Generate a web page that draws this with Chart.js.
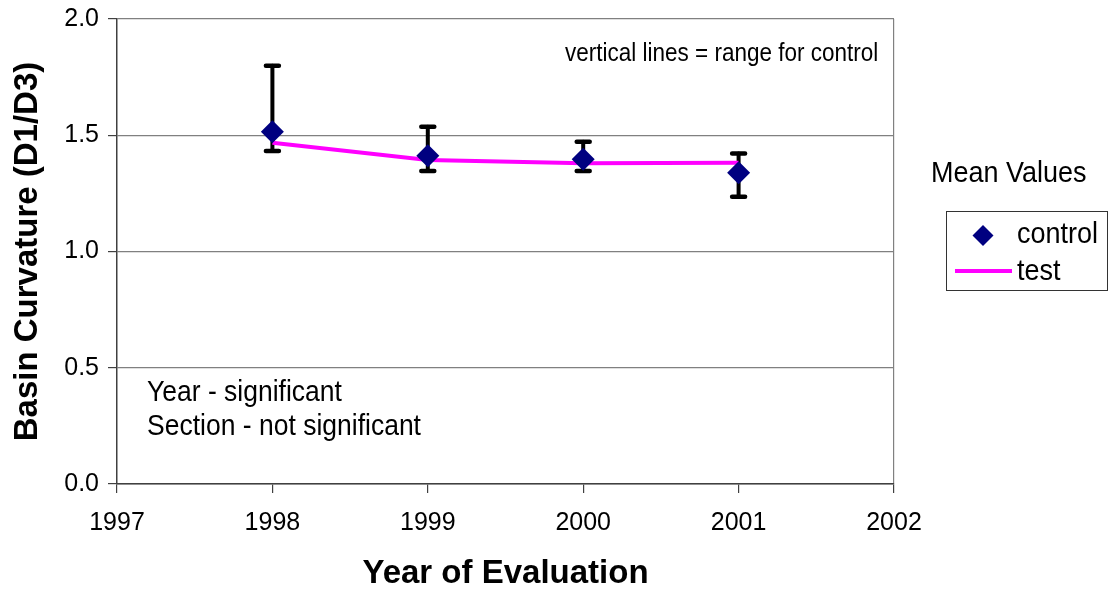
<!DOCTYPE html>
<html>
<head>
<meta charset="utf-8">
<title>Basin Curvature</title>
<script src="https://cdn.jsdelivr.net/npm/chart.js@4.4.0/dist/chart.umd.min.js"></script>
<style>
  html, body { margin: 0; padding: 0; background: #fff; }
  #wrap { width: 1110px; height: 592px; }
</style>
</head>
<body>
<div id="wrap"><canvas id="curvatureChart" width="1110" height="592"></canvas></div>
<script>
// values
const years = [1998, 1999, 2000, 2001];
const controlMean = [1.515, 1.412, 1.397, 1.339];
const controlHigh = [1.799, 1.537, 1.472, 1.422];
const controlLow = [1.432, 1.346, 1.346, 1.236];
const testMean = [1.468, 1.394, 1.38, 1.382];

const xTicks = [1997, 1998, 1999, 2000, 2001, 2002];
const yTicks = [0, 0.5, 1.0, 1.5, 2.0];

const FONT = "'Liberation Sans', Arial, sans-serif";
Chart.defaults.font.family = FONT;
Chart.defaults.color = "#000";

function stretchedText(ctx, text, x, y, size, sy) {
    ctx.save();
    ctx.font = size + "px " + FONT;
    ctx.fillStyle = "#000";
    ctx.textBaseline = "alphabetic";
    ctx.textAlign = "left";
    ctx.translate(x, y);
    ctx.scale(1, sy);
    ctx.fillText(text, 0, 0);
    ctx.restore();
}

// range bars for control, drawn behind the markers
const rangeBars = {
    id: "rangeBars",
    beforeDatasetsDraw(chart) {
        const ctx = chart.ctx;
        const xs = chart.scales.x;
        const ys = chart.scales.y;
        ctx.save();
        ctx.strokeStyle = "#000";
        ctx.lineCap = "round";
        years.forEach((yr, i) => {
            const px = xs.getPixelForValue(yr);
            const top = ys.getPixelForValue(controlHigh[i]);
            const bot = ys.getPixelForValue(controlLow[i]);
            ctx.lineWidth = 4;
            ctx.beginPath();
            ctx.moveTo(px, top);
            ctx.lineTo(px, bot);
            ctx.stroke();
            ctx.lineWidth = 4.5;
            ctx.beginPath();
            ctx.moveTo(px - 6.5, top);
            ctx.lineTo(px + 6.5, top);
            ctx.moveTo(px - 6.5, bot);
            ctx.lineTo(px + 6.5, bot);
            ctx.stroke();
        });
        ctx.restore();
    }
};

// legend box and notes
const extras = {
    id: "extras",
    afterDraw(chart) {
        const ctx = chart.ctx;
        const sy = 1.12;

        stretchedText(ctx, "vertical lines = range for control", 565, 61, 22.5, sy);
        stretchedText(ctx, "Year - significant", 147, 401, 26.5, sy);
        stretchedText(ctx, "Section - not significant", 147, 435, 26.5, sy);

        stretchedText(ctx, "Mean Values", 931, 182, 27, sy);

        ctx.save();
        ctx.strokeStyle = "#333";
        ctx.lineWidth = 1;
        ctx.strokeRect(946.5, 211.5, 161, 79);

        // diamond sample
        ctx.fillStyle = "#000080";
        ctx.beginPath();
        ctx.moveTo(983, 225);
        ctx.lineTo(993.5, 235.5);
        ctx.lineTo(983, 246);
        ctx.lineTo(972.5, 235.5);
        ctx.closePath();
        ctx.fill();

        // line sample
        ctx.strokeStyle = "#ff00ff";
        ctx.lineWidth = 4;
        ctx.beginPath();
        ctx.moveTo(955, 271);
        ctx.lineTo(1012, 271);
        ctx.stroke();
        ctx.restore();

        stretchedText(ctx, "control", 1017, 243, 27, sy);
        stretchedText(ctx, "test", 1017, 280, 27, sy);
    }
};

function noScalePadding(s) {
    s.paddingTop = 0;
    s.paddingBottom = 0;
    s.paddingLeft = 0;
    s.paddingRight = 0;
}

const ctx = document.getElementById("curvatureChart").getContext("2d");

new Chart(ctx, {
    type: "line",
    data: {
        datasets: [
            {
                label: "control",
                data: years.map((yr, i) => ({ x: yr, y: controlMean[i] })),
                showLine: false,
                pointStyle: "rectRot",
                pointRadius: 11.5,
                pointHoverRadius: 11.5,
                pointBackgroundColor: "#000080",
                pointBorderColor: "#000080",
                pointBorderWidth: 0
            },
            {
                label: "test",
                data: years.map((yr, i) => ({ x: yr, y: testMean[i] })),
                borderColor: "#ff00ff",
                borderWidth: 4,
                tension: 0,
                pointRadius: 0,
                fill: false
            }
        ]
    },
    options: {
        responsive: false,
        animation: false,
        devicePixelRatio: 1,
        layout: { padding: { top: 19, right: 216, left: 0, bottom: 0 } },
        plugins: {
            legend: { display: false },
            tooltip: { enabled: false }
        },
        scales: {
            x: {
                type: "linear",
                min: 1997,
                max: 2002,
                afterFit: s => { s.height = 108; noScalePadding(s); },
                afterBuildTicks: s => { s.ticks = xTicks.map(v => ({ value: v })); },
                ticks: {
                    font: { size: 25 },
                    color: "#000",
                    padding: 15,
                    maxRotation: 0,
                    callback: v => String(v)
                },
                grid: {
                    color: c => (c.tick && c.tick.value === 2002 ? "#808080" : "rgba(0,0,0,0)"),
                    tickColor: "#404040",
                    tickLength: 9,
                    lineWidth: 1.2
                },
                border: { color: "#404040", width: 1.5 },
                title: {
                    display: true,
                    text: "Year of Evaluation",
                    font: { size: 33, weight: "bold", lineHeight: 1.1 },
                    color: "#000",
                    padding: { top: 0, bottom: 0 }
                }
            },
            y: {
                min: 0,
                max: 2,
                afterFit: s => { s.width = 117; noScalePadding(s); },
                afterBuildTicks: s => { s.ticks = yTicks.map(v => ({ value: v })); },
                ticks: {
                    font: { size: 25 },
                    color: "#000",
                    padding: 9,
                    callback: v => Number(v).toFixed(1)
                },
                grid: {
                    color: "#808080",
                    tickColor: "#404040",
                    tickLength: 9,
                    lineWidth: 1.2
                },
                border: { color: "#404040", width: 1.5 },
                title: {
                    display: true,
                    text: "Basin Curvature (D1/D3)",
                    font: { size: 33, weight: "bold" },
                    color: "#000",
                    padding: { top: 8, bottom: 0 }
                }
            }
        }
    },
    plugins: [rangeBars, extras]
});
</script>
</body>
</html>
